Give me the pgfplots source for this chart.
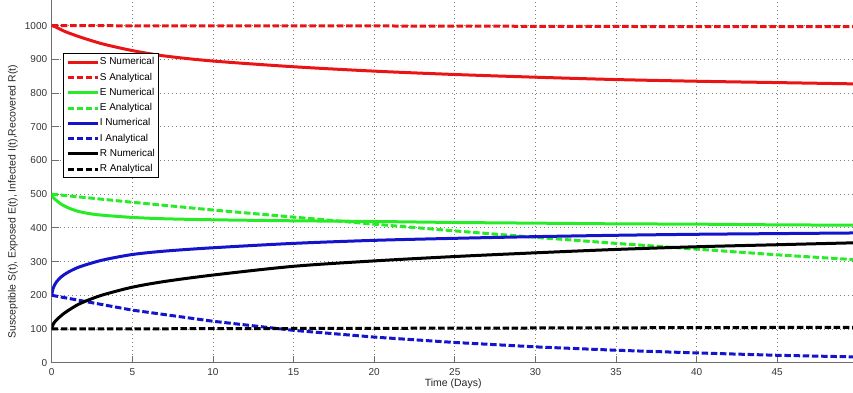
\documentclass[border=0pt]{standalone}
\usepackage{fontspec}
\setmainfont{Liberation Sans}
\usepackage{pgfplots}
\pgfplotsset{compat=1.18}
\definecolor{cS}{RGB}{235,20,20}
\definecolor{cE}{RGB}{40,235,40}
\definecolor{cI}{RGB}{20,20,205}
\definecolor{cR}{RGB}{0,0,0}
\definecolor{axgray}{RGB}{110,110,110}
\begin{document}
\begin{tikzpicture}
\begin{axis}[
  scale only axis, width=801.3pt, height=362.7pt,
  xmin=0, xmax=49.7, ymin=0, ymax=1076,
  axis lines=left,
  axis line style={-, draw=axgray, line width=1pt},
  xtick={0,5,...,45}, ytick={0,100,...,1000},
  tick align=inside, major tick length=7pt,
  tick style={draw=axgray, line width=0.8pt},
  grid=major, grid style={dash pattern=on 1pt off 3pt, draw=gray, line width=0.8pt},
  /pgf/number format/assume math mode=true,
  /pgf/number format/1000 sep={},
  ticklabel style={font=\fontsize{10}{10}\selectfont, text=black!80},
  xticklabel style={yshift=-2pt},
  yticklabel style={xshift=-1pt},
  xlabel={Time (Days)},
  ylabel={Susceptible S(t), Exposed E(t), Infected I(t),Recovered R(t)},
  label style={font=\fontsize{10.5}{10.5}\selectfont, text=black!85},
  xlabel style={at={(axis description cs:0.501,-0.0587)}, anchor=center},
  ylabel style={at={(axis description cs:-0.0483,0.444)}, anchor=center, rotate=0},
  legend image code/.code={\draw[#1] (0pt,0pt) -- (30pt,0pt);},
  legend style={at={(axis description cs:0.0137,0.853)}, anchor=north west,
    draw=black, line width=0.7pt, fill=white, inner xsep=3pt, inner ysep=3pt,
    font=\fontsize{10}{10}\selectfont, row sep=4.4pt,
    nodes={inner sep=0.8pt, text height=7.3pt, text depth=2pt},
    cells={anchor=west}},
  sol/.style={line width=3pt},
  das/.style={line width=3pt, dash pattern=on 6.5pt off 2.7pt},
]
\addplot[cS, sol, smooth] coordinates {(0,1000)(0.2,997)(0.8,983)(1.65,968)(2.5,955)(3.3,944)(5,926)(7,910)(10,895)(15,878)(20,865)(25,855)(30,847)(35,840)(40,835)(45,831)(50,827)};
\addlegendentry{S Numerical}
\addplot[cS, das] coordinates {(0,1000)(10,999)(20,999)(30,998)(40,997)(50,997)};
\addlegendentry{S Analytical}
\addplot[cE, sol, smooth] coordinates {(0,500)(0.1,490)(0.3,481)(0.6,470)(1,460)(1.65,449)(2.5,441)(3.3,437)(5,431)(7,427)(10,424)(15,421)(20,419)(25,416)(30,414)(35,412)(40,411)(45,409)(50,408)};
\addlegendentry{E Numerical}
\addplot[cE, das] coordinates {(0,500)(5,476)(10,453)(15,432)(20,411)(25,391)(30,372)(35,354)(40,337)(45,320)(50,305)};
\addlegendentry{E Analytical}
\addplot[cI, sol, smooth] coordinates {(0,200)(0.1,222)(0.3,240)(0.6,255)(1,268)(1.65,283)(2.5,296)(3.3,306)(5,321)(7,331)(10,341)(15,354)(20,363)(25,369)(30,374)(35,378)(40,381)(45,383)(50,385)};
\addlegendentry{I Numerical}
\addplot[cI, das] coordinates {(0,200)(5,156)(10,123)(15,96)(20,76)(25,60)(30,47)(35,37)(40,29)(45,22)(50,17)};
\addlegendentry{I Analytical}
\addplot[cR, sol, smooth] coordinates {(0,100)(0.1,115)(0.3,127)(0.6,140)(0.9,151)(1.65,173)(2.5,190)(3.3,203)(5,224)(7,241)(10,260)(15,286)(20,302)(25,315)(30,326)(35,336)(40,344)(45,350)(50,356)};
\addlegendentry{R Numerical}
\addplot[cR, das] coordinates {(0,100)(10,101)(20,102)(30,103)(40,104)(50,105)};
\addlegendentry{R Analytical}
\end{axis}
\pgfresetboundingbox
\path (-51.7pt,-29.3pt) rectangle (801.3pt,362.7pt);
\end{tikzpicture}
\end{document}
